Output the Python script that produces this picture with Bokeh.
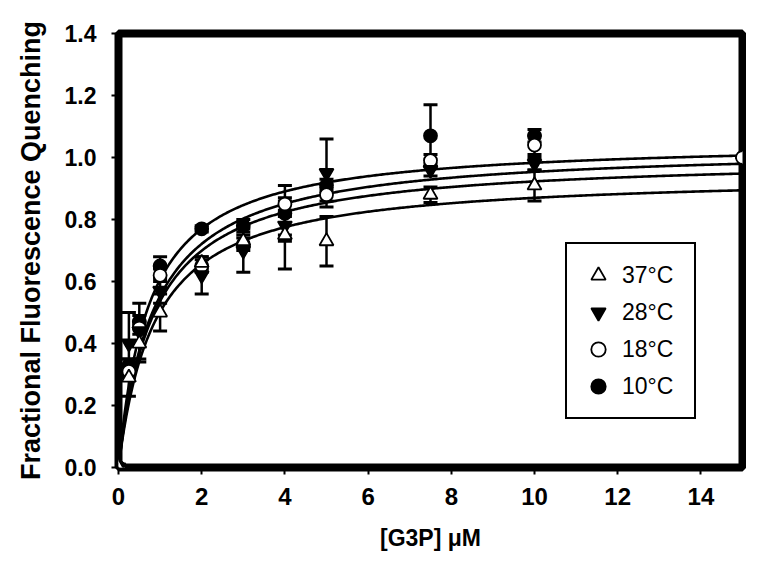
import numpy as np
from bokeh.plotting import figure
from bokeh.models import (ColumnDataSource, Whisker, TeeHead, Legend, LegendItem,
                          FixedTicker, CustomJSTickFormatter, Range1d)
from bokeh.embed import file_html
from bokeh.resources import INLINE

# ---- data ----
labels = ["37°C", "28°C", "18°C", "10°C"]

x_37 = [0, 0.25, 0.5, 1, 2, 3, 4, 5, 7.5, 10]
y_37 = [0, 0.29, 0.40, 0.50, 0.66, 0.73, 0.75, 0.73, 0.88, 0.91]
e_37 = [0, 0.06, 0.06, 0.06, 0.02, 0.02, 0.11, 0.08, 0.025, 0.05]

x_28 = [0, 0.25, 0.5, 1, 2, 3, 4, 5, 7.5, 10]
y_28 = [0, 0.40, 0.44, 0.57, 0.62, 0.70, 0.78, 0.95, 0.96, 0.98]
e_28 = [0, 0.10, 0.09, 0.04, 0.06, 0.07, 0.03, 0.11, 0.02, 0.02]

x_18 = [0, 0.25, 0.5, 1, 2, 3, 4, 5, 7.5, 10, 15]
y_18 = [0, 0.31, 0.45, 0.62, 0.65, 0.72, 0.85, 0.88, 0.99, 1.04, 1.00]
e_18 = [0, 0.02, 0.02, 0.02, 0.02, 0.02, 0.02, 0.02, 0.02, 0.03, 0.0]

x_10 = [0, 0.25, 0.5, 1, 2, 3, 4, 5, 7.5, 10]
y_10 = [0, 0.33, 0.47, 0.65, 0.77, 0.78, 0.82, 0.91, 1.07, 1.07]
e_10 = [0, 0.02, 0.02, 0.03, 0.01, 0.02, 0.09, 0.02, 0.10, 0.02]

# hyperbolic fit parameters (Bmax, Kd)
fit_bmax = [0.947, 1.003, 1.037, 1.056]   # 37, 28, 18, 10 °C
fit_kd = [0.886, 0.868, 0.875, 0.743]

x_ticks = [0, 2, 4, 6, 8, 10, 12, 14]
y_ticks = [0.0, 0.2, 0.4, 0.6, 0.8, 1.0, 1.2, 1.4]

FONT = "Liberation Sans"

p = figure(width=746, height=553, output_backend="svg", toolbar_location=None,
           x_range=Range1d(0, 15), y_range=Range1d(0, 1.4),
           min_border_left=118, min_border_right=4, min_border_top=33,
           min_border_bottom=86)
p.grid.visible = False
p.background_fill_color = "white"
p.border_fill_color = "white"
p.outline_line_color = "black"
p.outline_line_width = 8
p.outline_line_alpha = 1

for ax in (p.xaxis[0], p.yaxis[0]):
    ax.axis_line_color = None
    ax.major_tick_line_color = "black"
    ax.major_tick_line_width = 2
    ax.major_tick_in = 0
    ax.major_tick_out = 7
    ax.minor_tick_line_color = None
    ax.major_label_text_font = FONT
    ax.major_label_text_font_style = "bold"
    ax.major_label_text_color = "black"
    ax.axis_label_text_font = FONT
    ax.axis_label_text_font_style = "bold"
    ax.axis_label_text_color = "black"

p.xaxis.ticker = FixedTicker(ticks=x_ticks)
p.yaxis.ticker = FixedTicker(ticks=y_ticks)
p.yaxis.formatter = CustomJSTickFormatter(code="return tick.toFixed(1);")
p.xaxis.major_label_text_font_size = "24px"
p.yaxis.major_label_text_font_size = "23px"
p.xaxis.major_label_standoff = 13
p.yaxis.major_label_standoff = 15
p.xaxis.axis_label = "[G3P] μM"
p.xaxis.axis_label_text_font_size = "23px"
p.xaxis.axis_label_standoff = 17
p.yaxis.axis_label = "Fractional Fluorescence Quenching"
p.yaxis.axis_label_text_font_size = "27px"
p.yaxis.axis_label_standoff = 16

# fitted curves
xc = np.linspace(0, 15, 400)
for bm, kd in zip(fit_bmax, fit_kd):
    p.line(xc, bm * xc / (kd + xc), line_color="black", line_width=2.6)

series = [
    (x_37, y_37, e_37, "triangle", "white", 14),
    (x_28, y_28, e_28, "inverted_triangle", "black", 14),
    (x_18, y_18, e_18, "circle", "white", 13),
    (x_10, y_10, e_10, "circle", "black", 13),
]

# error bars
for xs, ys, es, *_ in series:
    src = ColumnDataSource(dict(x=xs, lo=[y - e for y, e in zip(ys, es)],
                                hi=[y + e for y, e in zip(ys, es)]))
    w = Whisker(source=src, base="x", lower="lo", upper="hi",
                line_color="black", line_width=2.5,
                upper_head=TeeHead(size=14, line_width=3, line_color="black"),
                lower_head=TeeHead(size=14, line_width=3, line_color="black"))
    p.add_layout(w)

renderers = []
for xs, ys, es, marker, fill, size in reversed(series):
    r = p.scatter(xs, ys, marker=marker, size=size, fill_color=fill,
                  line_color="black", line_width=1.8)
    renderers.append(r)
renderers = list(reversed(renderers))

legend = Legend(items=[LegendItem(label=lab, renderers=[r]) for lab, r in zip(labels, renderers)],
                location=(447, 48))
legend.border_line_color = "black"
legend.border_line_width = 2
legend.border_line_alpha = 1
legend.background_fill_color = "white"
legend.background_fill_alpha = 1
legend.label_text_font = FONT
legend.label_text_font_size = "23px"
legend.label_text_color = "black"
legend.glyph_width = 36
legend.glyph_height = 36
legend.label_height = 36
legend.label_width = 59
legend.spacing = 1
legend.padding = 13
legend.margin = 0
legend.label_standoff = 6
p.add_layout(legend, "center")

open("out.html", "w").write(file_html(p, INLINE))
